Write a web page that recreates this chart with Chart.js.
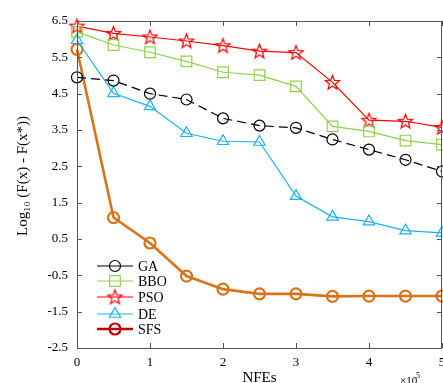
<!DOCTYPE html>
<html>
<head>
<meta charset="utf-8">
<script src="https://cdn.jsdelivr.net/npm/chart.js@4.4.0/dist/chart.umd.min.js"></script>
<style>
  html, body { margin: 0; padding: 0; background: #fff; }
  #chart { display: block; }
</style>
</head>
<body>
<canvas id="chart" width="443" height="383" style="width:443px;height:383px"></canvas>
<script>
// NFEs (x 10^5)
var nfes = [0, 0.5, 1, 1.5, 2, 2.5, 3, 3.5, 4, 4.5, 5];
var gaValues = [4.95, 4.86, 4.50, 4.34, 3.82, 3.62, 3.56, 3.24, 2.96, 2.68, 2.36];
var bboValues = [6.20, 5.84, 5.64, 5.39, 5.09, 5.01, 4.70, 3.60, 3.46, 3.21, 3.10];
var psoValues = [6.36, 6.16, 6.06, 5.95, 5.82, 5.67, 5.63, 4.81, 3.77, 3.74, 3.57];
var deValues = [5.97, 4.51, 4.15, 3.41, 3.19, 3.17, 1.68, 1.11, 0.98, 0.73, 0.67];
var sfsValues = [5.72, 1.09, 0.39, -0.52, -0.88, -1.01, -1.01, -1.08, -1.07, -1.07, -1.07];
var yTicks = [-2.5, -1.5, -0.5, 0.5, 1.5, 2.5, 3.5, 4.5, 5.5, 6.5];
var xTicks = [0, 1, 2, 3, 4, 5];

var SERIF = "'Liberation Serif', 'DejaVu Serif', serif";

function makeStar(color, r) {
  var c = document.createElement("canvas");
  var s = Math.ceil(2 * r + 4);
  c.width = s;
  c.height = s;
  var g = c.getContext("2d");
  var cx = s / 2, cy = s / 2 + 0.5;
  g.beginPath();
  for (var i = 0; i < 10; i++) {
    var rad = i % 2 === 0 ? r : r * 0.42;
    var a = -Math.PI / 2 + i * Math.PI / 5;
    var px = cx + rad * Math.cos(a), py = cy + rad * Math.sin(a);
    if (i === 0) g.moveTo(px, py); else g.lineTo(px, py);
  }
  g.closePath();
  g.strokeStyle = color;
  g.lineWidth = 1.2;
  g.stroke();
  return c;
}

var starImg = makeStar("#ff0000", 7.5);

function points(values) {
  return values.map(function (v, i) { return { x: nfes[i], y: v }; });
}

var datasets = [
  { label: "GA", data: points(gaValues), borderColor: "#000000", borderWidth: 1.2,
    borderDash: [9, 5], pointStyle: "circle", pointRadius: 5.5, pointBorderWidth: 1.2,
    legendColor: "#000000" },
  { label: "BBO", data: points(bboValues), borderColor: "#8fd14f", borderWidth: 1.2,
    pointStyle: "rect", pointRadius: 7.5, pointBorderWidth: 1.2, legendColor: "#8fd14f" },
  { label: "PSO", data: points(psoValues), borderColor: "#ff0000", borderWidth: 1.2,
    pointStyle: starImg, pointRadius: 7.5, pointBorderWidth: 1.2, legendColor: "#ff0000" },
  { label: "DE", data: points(deValues), borderColor: "#1ab2f0", borderWidth: 1.2,
    pointStyle: "triangle", pointRadius: 6.5, pointBorderWidth: 1.2, legendColor: "#1ab2f0" },
  { label: "SFS", data: points(sfsValues), borderColor: "#d9731a", borderWidth: 2.6,
    pointStyle: "circle", pointRadius: 5.5, pointBorderWidth: 2.2, legendColor: "#c00000" }
];
datasets.forEach(function (d) {
  d.pointBorderColor = d.borderColor;
  d.pointBackgroundColor = "rgba(0,0,0,0)";
  d.backgroundColor = "rgba(0,0,0,0)";
  d.fill = false;
  d.tension = 0;
  d.clip = false;
  d.pointHoverRadius = d.pointRadius;
});

var framePlugin = {
  id: "frame",
  afterDraw: function (chart) {
    var ctx = chart.ctx;
    var a = chart.chartArea;
    var xs = chart.scales.x, ys = chart.scales.y;
    ctx.save();
    ctx.strokeStyle = "#555555";
    ctx.lineWidth = 1;
    ctx.strokeRect(a.left + 0.5, a.top + 0.5, a.right - a.left - 1, a.bottom - a.top);
    ctx.beginPath();
    xTicks.forEach(function (t) {
      var px = Math.round(xs.getPixelForValue(t)) + 0.5;
      ctx.moveTo(px, a.bottom); ctx.lineTo(px, a.bottom - 5);
      ctx.moveTo(px, a.top); ctx.lineTo(px, a.top + 5);
    });
    yTicks.forEach(function (t) {
      var py = Math.round(ys.getPixelForValue(t)) + 0.5;
      ctx.moveTo(a.left, py); ctx.lineTo(a.left + 5, py);
      ctx.moveTo(a.right, py); ctx.lineTo(a.right - 5, py);
    });
    ctx.stroke();

    // axis titles
    ctx.fillStyle = "#000";
    ctx.textAlign = "center";
    ctx.textBaseline = "middle";
    ctx.font = "15px " + SERIF;
    ctx.fillText("NFEs", (a.left + a.right) / 2, 378);
    ctx.save();
    ctx.translate(23, 176);
    ctx.rotate(-Math.PI / 2);
    ctx.fillText("Log\u2081\u2080 (F(x) - F(x*))", 0, 0);
    ctx.restore();
    ctx.font = "11px " + SERIF;
    ctx.textAlign = "left";
    ctx.fillText("\u00d710", 400, 381);
    ctx.font = "8px " + SERIF;
    ctx.fillText("5", 416, 376);

    // legend
    var rowY = [266, 281, 297, 314, 329];
    chart.data.datasets.forEach(function (d, i) {
      var y = rowY[i];
      ctx.strokeStyle = d.legendColor;
      ctx.fillStyle = "rgba(0,0,0,0)";
      ctx.lineWidth = d.borderWidth;
      ctx.setLineDash([]);
      ctx.beginPath();
      ctx.moveTo(97, y); ctx.lineTo(133, y);
      ctx.stroke();
      ctx.lineWidth = d.pointBorderWidth;
      Chart.helpers.drawPoint(ctx, {
        pointStyle: d.pointStyle, radius: d.pointRadius, rotation: 0, borderWidth: d.pointBorderWidth
      }, 115, y);
      ctx.fillStyle = "#000";
      ctx.font = "14px " + SERIF;
      ctx.textAlign = "left";
      ctx.textBaseline = "middle";
      ctx.fillText(d.label, 138, y + 1);
    });
    ctx.restore();
  }
};

new Chart(document.getElementById("chart").getContext("2d"), {
  type: "line",
  data: { datasets: datasets },
  options: {
    responsive: false,
    animation: false,
    devicePixelRatio: 1,
    layout: { autoPadding: false, padding: { left: 0, top: 21, right: 1, bottom: 0 } },
    plugins: { legend: { display: false }, tooltip: { enabled: false } },
    scales: {
      x: {
        type: "linear",
        min: 0,
        max: 5,
        afterFit: function (s) { s.height = 35; s.paddingLeft = 0; s.paddingRight = 0; },
        afterBuildTicks: function (s) { s.ticks = xTicks.map(function (v) { return { value: v }; }); },
        grid: { display: false, drawTicks: false },
        border: { display: false },
        ticks: { color: "#000", padding: 7, font: { family: SERIF, size: 13 },
          callback: function (v) { return String(v); } }
      },
      y: {
        min: -2.5,
        max: 6.5,
        afterFit: function (s) { s.width = 77; s.paddingTop = 0; s.paddingBottom = 0; },
        afterBuildTicks: function (s) { s.ticks = yTicks.map(function (v) { return { value: v }; }); },
        grid: { display: false, drawTicks: false },
        border: { display: false },
        ticks: { color: "#000", padding: 9, font: { family: SERIF, size: 13 },
          callback: function (v) { return Number(v).toFixed(1); } }
      }
    }
  },
  plugins: [framePlugin]
});
</script>
</body>
</html>
